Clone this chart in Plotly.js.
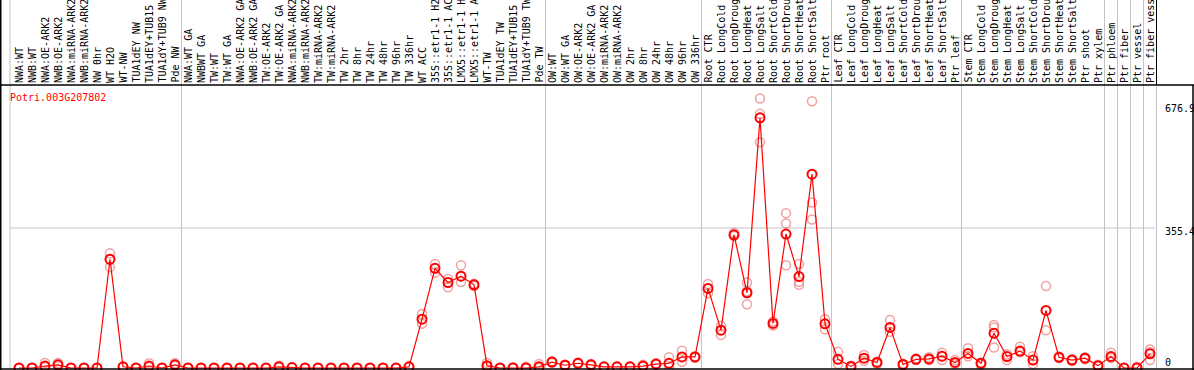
<!DOCTYPE html>
<html>
<head>
<meta charset="utf-8">
<script src="https://cdn.plot.ly/plotly-3.0.1.min.js"></script>
<style>
html,body{margin:0;padding:0;background:#fff;overflow:hidden;}
#chart{width:1194px;height:370px;}
</style>
</head>
<body>
<div id="chart"></div>
<script>
var geneName = "Potri.003G207802";

var categories = [
"NWA:WT","NWB:WT","NWA:OE-ARK2","NWB:OE-ARK2","NWA:miRNA-ARK2","NWB:miRNA-ARK2","NW 0hr","WT H2O","WT-NW","TUA1dEY NW",
"TUA1dEY+TUB15","TUA1dY+TUB9 NW","Pde NW","NWA:WT GA","NWBWT GA","TW:WT","TW:WT GA","NWA:OE-ARK2 GA","NWB:OE-ARK2 GA","TW:OE-ARK2",
"TW:OE-ARK2 GA","NWA:miRNA-ARK2","NWB:miRNA-ARK2","TW:miRNA-ARK2","TW:miRNA-ARK2","TW 2hr","TW 8hr","TW 24hr","TW 48hr","TW 96hr",
"TW 336hr","WT ACC","35S::etr1-1 H2O","35S::etr1-1 ACC","LMX5::etr1-1 H2O","LMX5::etr1-1 ACC","WT-TW","TUA1dEY TW","TUA1dEY+TUB15","TUA1dY+TUB9 TW",
"Pde TW","OW:WT","OW:WT GA","OW:OE-ARK2","OW:OE-ARK2 GA","OW:miRNA-ARK2","OW:miRNA-ARK2","OW 2hr","OW 8hr","OW 24hr",
"OW 48hr","OW 96hr","OW 336hr","Root CTR","Root LongCold","Root LongDrought","Root LongHeat","Root LongSalt","Root ShortCold","Root ShortDrought",
"Root ShortHeat","Root ShortSalt","Ptr root","Leaf CTR","Leaf LongCold","Leaf LongDrought","Leaf LongHeat","Leaf LongSalt","Leaf ShortCold","Leaf ShortDrought",
"Leaf ShortHeat","Leaf ShortSalt","Ptr leaf","Stem CTR","Stem LongCold","Stem LongDrought","Stem LongHeat","Stem LongSalt","Stem ShortCold","Stem ShortDrought",
"Stem ShortHeat","Stem ShortSalt","Ptr shoot","Ptr xylem","Ptr phloem","Ptr fiber","Ptr vessel","Ptr fiber vessel"
];

var meanValues = [
0,0,5,8,0,0,0,276,3,0,
5,0,8,0,0,0,0,0,0,0,
3,1,0,0,0,0,0,0,0,0,
3,124,253,217,233,211,6,0,0,0,
3,15,7,12,8,3,3,3,5,10,
12,28,28,202,96,338,191,635,113,340,
232,492,112,22,4,25,14,103,9,22,
23,30,14,37,12,88,29,43,20,146,
27,20,25,6,29,0,0,36
];

var rep1 = [
0,0,13,13,0,0,0,291,3,0,
12,0,12,0,0,0,0,0,0,0,
6,1,0,0,0,0,0,0,0,0,
3,137,264,226,261,214,13,0,2,3,
10,17,9,14,10,4,4,4,8,12,
27,44,30,213,107,343,217,684,118,393,
264,677,124,41,6,33,16,122,11,24,
27,39,20,50,14,109,35,54,30,208,
29,23,27,8,39,0,3,47
];

var rep2 = [
0,0,2,4,0,0,0,256,2,0,
2,0,5,0,0,0,0,0,0,0,
1,1,0,0,0,0,0,0,0,0,
2,112,242,205,218,208,2,0,0,0,
0,13,6,10,6,2,2,2,3,8,
2,16,26,190,84,335,162,645,108,367,
219,420,98,10,2,18,10,92,7,20,
20,20,10,30,8,52,20,40,10,96,
25,18,22,4,25,0,0,20
];

var rep3 = [
null,null,null,null,null,null,null,null,null,null,
null,null,null,null,null,null,null,null,null,null,
null,null,null,null,null,null,null,null,null,null,
null,null,null,null,null,null,null,null,null,null,
null,null,null,null,null,null,null,null,null,null,
null,null,null,null,null,null,195,573,null,261,
211,377,null,null,null,null,null,null,null,null,
null,null,null,null,null,103,null,null,null,null,
null,null,null,null,null,null,null,40
];

var axisLabels = ["676.9","355.4","0"];
var axisLabelValues = [676.9,355.4,0];

// group separators (after these category numbers)
var separatorsAfter = [13,41,53,63,73,84,85,86,87,88];

var W = 1194, H = 370;
function px(x){return x/W;}
function py(y){return 1 - y/H;}

var idx = categories.map(function(_,i){return i+1;});

var repX = [], repY = [];
[rep1,rep2,rep3].forEach(function(r){
  r.forEach(function(v,i){ if(v!==null){repX.push(i+1); repY.push(v);} });
});

var traces = [
  {
    x: repX, y: repY, type:'scatter', mode:'markers', hoverinfo:'skip',
    marker:{symbol:'circle-open', size:9, color:'rgba(235,130,130,0.75)', line:{width:1.5, color:'rgba(235,130,130,0.75)'}},
    cliponaxis:false, showlegend:false
  },
  {
    x: idx, y: meanValues, type:'scatter', mode:'lines+markers',
    line:{color:'#ff0000', width:1.2},
    marker:{symbol:'circle-open', size:9, color:'#ff0000', line:{width:2, color:'#ff0000'}},
    cliponaxis:false, showlegend:false
  }
];

var mono = "DejaVu Sans Mono, monospace";
var annotations = [];
categories.forEach(function(c,i){
  annotations.push({
    x: i+1, xref:'x', y: py(84), yref:'paper',
    text: c, showarrow:false, textangle:-90,
    xanchor:'center', yanchor:'bottom',
    font:{family:mono, size:10, color:'#000'}, borderpad:0
  });
});
annotations.push({
  x: px(8), xref:'paper', y: py(97), yref:'paper', text: geneName, showarrow:false,
  xanchor:'left', yanchor:'middle', font:{family:mono, size:10, color:'#ff0000'}
});
var labelY = [108, 231.5, 362];
axisLabels.forEach(function(t,k){
  annotations.push({
    x: px(1163), xref:'paper', y: py(labelY[k]), yref:'paper', text:t, showarrow:false,
    xanchor:'left', yanchor:'middle', font:{family:mono, size:10, color:'#000'}
  });
});

var gray = '#c4c4c4';
var shapes = [];
// left vertical gray line
shapes.push({type:'line', xref:'paper', yref:'paper', x0:px(10), x1:px(10), y0:py(0), y1:py(369), line:{color:gray, width:1}, layer:'below'});
separatorsAfter.forEach(function(n){
  var last = (n===88);
  shapes.push({type:'line', xref:'x', yref:'paper', x0:n+0.5, x1:n+0.5, y0:last?py(86):py(0), y1:py(369), line:{color:gray, width:1}, layer:'below'});
  if(last){
    shapes.push({type:'line', xref:'x', yref:'paper', x0:n+0.5, x1:n+0.5, y0:py(0), y1:py(85), line:{color:'#000', width:1}, layer:'below'});
  }
});
// horizontal gridline at middle value
shapes.push({type:'line', xref:'paper', yref:'y', x0:px(10), x1:px(1155), y0:axisLabelValues[1], y1:axisLabelValues[1], line:{color:gray, width:1}, layer:'below'});
// header bottom line
shapes.push({type:'line', xref:'paper', yref:'paper', x0:0, x1:1, y0:py(85), y1:py(85), line:{color:'#000', width:1.5}, layer:'above'});
// bottom line
shapes.push({type:'line', xref:'paper', yref:'paper', x0:0, x1:1, y0:py(369), y1:py(369), line:{color:'#000', width:1.5}, layer:'above'});
// left and right borders
shapes.push({type:'line', xref:'paper', yref:'paper', x0:px(0.75), x1:px(0.75), y0:0, y1:1, line:{color:'#000', width:1.5}, layer:'above'});
shapes.push({type:'line', xref:'paper', yref:'paper', x0:px(1193), x1:px(1193), y0:py(85), y1:py(370), line:{color:'#000', width:1.5}, layer:'above'});

var layout = {
  width: W, height: H,
  margin:{l:0,r:0,t:0,b:0,pad:0},
  paper_bgcolor:'#fff', plot_bgcolor:'#fff',
  xaxis:{range:[1 - 19/13, 1 + 1175/13], visible:false, fixedrange:true},
  yaxis:{range:[-2/0.394, 368/0.394], visible:false, fixedrange:true},
  showlegend:false,
  annotations: annotations,
  shapes: shapes
};

Plotly.newPlot('chart', traces, layout, {staticPlot:true, displayModeBar:false});
</script>
</body>
</html>
